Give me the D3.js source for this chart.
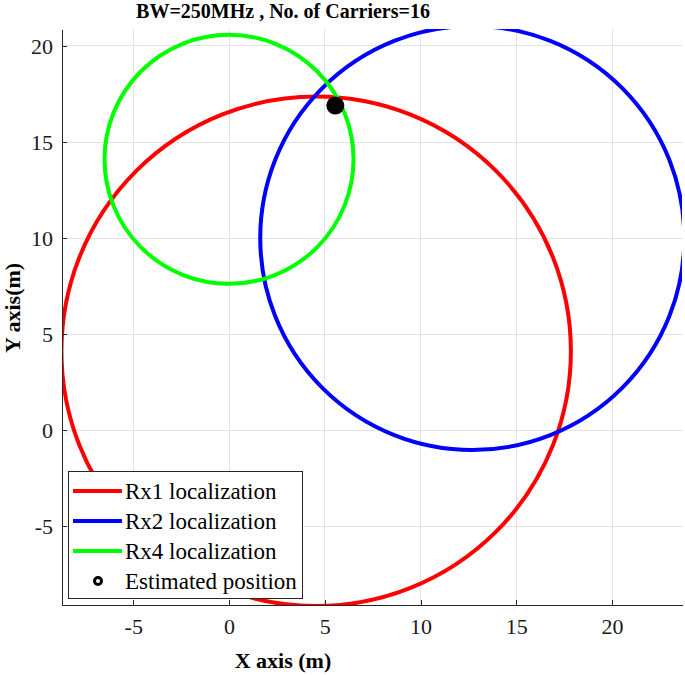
<!DOCTYPE html>
<meta charset="utf-8">
<html lang="en">
<style>
    body {
        margin: 0;
        background: #fff;
        font-family: "Liberation Serif", "Times New Roman", serif;
    }
    .grid line {
        stroke: #e3e3e3;
        stroke-width: 1px;
        shape-rendering: crispEdges;
    }
    .axis path,
    .axis line {
        fill: none;
        stroke: #262626;
        stroke-width: 1px;
        shape-rendering: crispEdges;
    }
    .axis text {
        font-family: "Liberation Serif", serif;
        font-size: 22px;
        fill: #1a1a1a;
    }
</style>
<head>
    <meta charset="UTF-8">
    <script src="https://d3js.org/d3.v7.min.js"></script>
</head>
<body>
<svg width="685" height="675"></svg>
<script>

    // circles: receiver name, centre and radius (metres)
    var circleNames = ["Rx1 localization", "Rx2 localization", "Rx4 localization"];
    var circleColors = ["#ff0000", "#0000ff", "#00ff00"];
    var centerX = [4.55, 12.7, 0.0];
    var centerY = [4.1, 10.0, 14.1];
    var radii = [13.3, 11.07, 6.5];

    // estimated position
    var estX = [5.55];
    var estY = [16.9];

    var xTicks = [-5, 0, 5, 10, 15, 20];
    var yTicks = [-5, 0, 5, 10, 15, 20];

    var margin = {top: 29, right: 3, bottom: 70, left: 62},
        width = 685 - margin.left - margin.right,
        height = 675 - margin.top - margin.bottom;

    var x = d3.scaleLinear().domain([-8.72, 23.65]).range([0, width]);
    var y = d3.scaleLinear().domain([-9.11, 20.885]).range([height, 0]);

    // matlab style: plain hyphen for minus
    var fmt = d => String(d);

    var svg = d3.select("svg");
    var g = svg.append("g")
        .attr("transform", "translate(" + margin.left + "," + margin.top + ")");

    svg.append("defs").append("clipPath").attr("id", "clip")
        .append("rect").attr("width", width).attr("height", height);

    // grid
    var grid = g.append("g").attr("class", "grid");
    grid.selectAll(".gx").data(xTicks).enter().append("line")
        .attr("x1", d => x(d)).attr("x2", d => x(d))
        .attr("y1", 0).attr("y2", height);
    grid.selectAll(".gy").data(yTicks).enter().append("line")
        .attr("y1", d => y(d)).attr("y2", d => y(d))
        .attr("x1", 0).attr("x2", width);

    // circles
    var plot = g.append("g").attr("clip-path", "url(#clip)");
    plot.selectAll(".ring").data(circleNames).enter().append("circle")
        .attr("class", "ring")
        .attr("cx", (d, i) => x(centerX[i]))
        .attr("cy", (d, i) => y(centerY[i]))
        .attr("r", (d, i) => x(radii[i]) - x(0))
        .style("fill", "none")
        .style("stroke", (d, i) => circleColors[i])
        .style("stroke-width", 4);

    plot.selectAll(".est").data(estX).enter().append("circle")
        .attr("class", "est")
        .attr("cx", d => x(d))
        .attr("cy", (d, i) => y(estY[i]))
        .attr("r", 9)
        .style("fill", "#000");

    // axes
    var xAxis = d3.axisBottom(x).tickValues(xTicks).tickFormat(fmt)
        .tickSizeInner(-5).tickSizeOuter(0).tickPadding(13);
    var yAxis = d3.axisLeft(y).tickValues(yTicks).tickFormat(fmt)
        .tickSizeInner(-5).tickSizeOuter(0).tickPadding(9);

    g.append("g").attr("class", "x axis")
        .attr("transform", "translate(0," + height + ")")
        .call(xAxis);
    g.append("g").attr("class", "y axis")
        .call(yAxis);

    // title and labels
    svg.append("text")
        .attr("x", 283).attr("y", 18)
        .style("text-anchor", "middle")
        .style("font-weight", "bold")
        .style("font-size", "20px")
        .text("BW=250MHz , No. of Carriers=16");

    svg.append("text")
        .attr("x", 283).attr("y", 668)
        .style("text-anchor", "middle")
        .style("font-weight", "bold")
        .style("font-size", "22px")
        .text("X axis (m)");

    svg.append("text")
        .attr("transform", "translate(20,308) rotate(-90)")
        .style("text-anchor", "middle")
        .style("font-weight", "bold")
        .style("font-size", "22px")
        .text("Y axis(m)");

    // legend
    var legend = svg.append("g").attr("transform", "translate(68,471)");
    legend.append("rect")
        .attr("width", 234).attr("height", 127)
        .style("fill", "#fff")
        .style("stroke", "#262626")
        .style("stroke-width", 1)
        .style("shape-rendering", "crispEdges");

    var items = legend.selectAll(".item").data(circleNames).enter().append("g")
        .attr("transform", (d, i) => "translate(0," + (20 + i * 30) + ")");
    items.append("line")
        .attr("x1", 5).attr("x2", 54)
        .style("stroke", (d, i) => circleColors[i])
        .style("stroke-width", 4);
    items.append("text")
        .attr("x", 57).attr("dy", "0.35em")
        .style("font-size", "23px")
        .text(d => d);

    var est = legend.append("g").attr("transform", "translate(0,110)");
    est.append("circle")
        .attr("cx", 30).attr("r", 3.5)
        .style("fill", "#fff")
        .style("stroke", "#000")
        .style("stroke-width", 3);
    est.append("text")
        .attr("x", 57).attr("dy", "0.35em")
        .style("font-size", "23px")
        .text("Estimated position");

</script>
</body>
</html>
